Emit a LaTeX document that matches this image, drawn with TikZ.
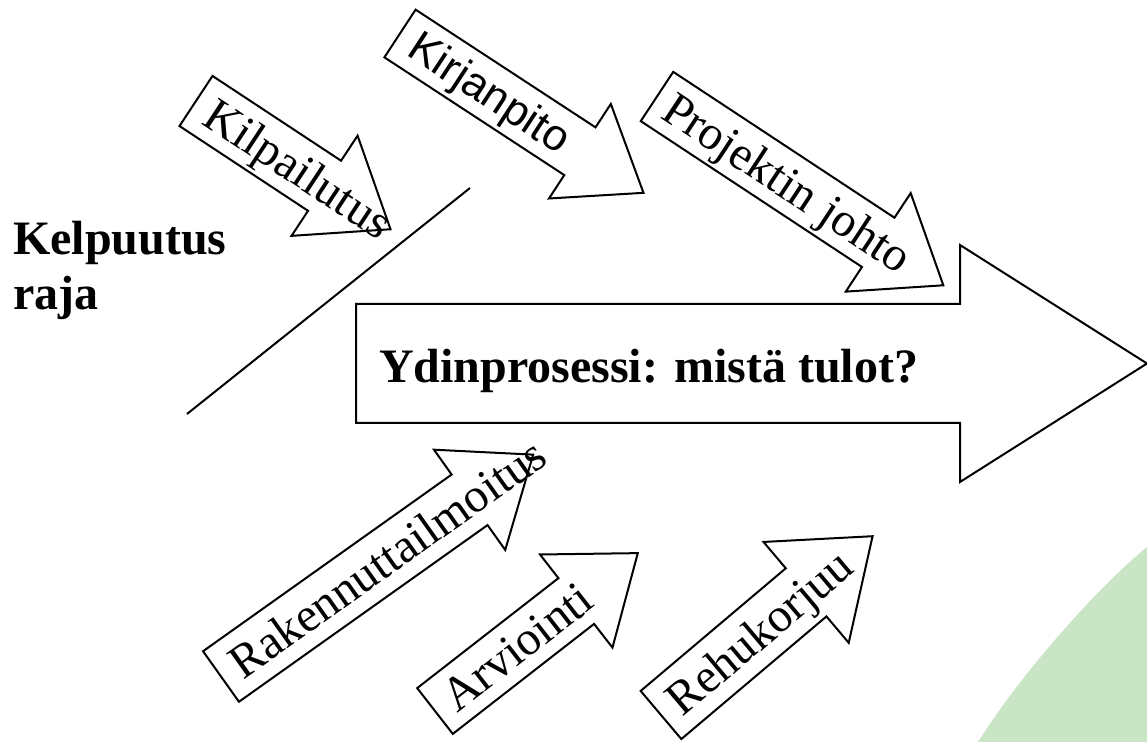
\documentclass[tikz,border=0pt]{standalone}
\usepackage{fontspec}
\setmainfont{Liberation Serif}
\newfontfamily\arialfont{Liberation Sans}
\usepackage{tikz}
\definecolor{leafgreen}{RGB}{202,228,198}

\begin{document}
\begin{tikzpicture}[x=0.5pt,y=-0.5pt,line width=1pt,
  block arrow/.style={draw=black,fill=white,line join=miter},
  arrow text/.style={anchor=base west,inner sep=0pt,font=\fontsize{24}{28}\selectfont},
  bold text/.style={anchor=base west,inner sep=0pt,font=\fontsize{24}{28}\selectfont\bfseries}]

  \useasboundingbox (0,0) rectangle (1147,742);

  % green corner
  \fill[leafgreen] (1147,547) .. controls (1095,590) and (1020,675) .. (978,742) -- (1147,742) -- cycle;

  % boundary line
  \coordinate (rajaTop) at (470,188);
  \coordinate (rajaBottom) at (187,414);
  \draw (rajaTop) -- (rajaBottom);

  \node[bold text] (kelpuutus) at (12,255) {Kelpuutus};
  \node[bold text] (raja) at (12,310) {raja};

  % core process
  \draw[block arrow] (356,304) -- (960,304) -- (960,245) -- (1147,363.5) -- (960,482) -- (960,423) -- (356,423) -- cycle;
  \node[bold text] (ydin) at (378,383) {Ydinprosessi: mistä tulot?};

  % arrows from above
  \begin{scope}[shift={(196,101)},rotate=-33.4]
    \draw[block arrow] (0,-30) -- (154,-30) -- (154,-60) -- (233,0) -- (154,60) -- (154,30) -- (0,30) -- cycle;
    \node[arrow text,rotate=-33.4] (kilpailutus) at (15,16) {Kilpailutus};
  \end{scope}
  \begin{scope}[shift={(400,33.5)},rotate=-33.2]
    \draw[block arrow] (0,-28.5) -- (215,-28.5) -- (215,-56.5) -- (291,0) -- (215,56.5) -- (215,28.5) -- (0,28.5) -- cycle;
    \node[arrow text,font=\arialfont\fontsize{22}{26}\selectfont,rotate=-33.2] (kirjanpito) at (15,15) {Kirjanpito};
  \end{scope}
  \begin{scope}[shift={(657,96.5)},rotate=-33.4]
    \draw[block arrow] (0,-29.5) -- (265,-29.5) -- (265,-59) -- (343,0) -- (265,59) -- (265,29.5) -- (0,29.5) -- cycle;
    \node[arrow text,rotate=-33.4] (johto) at (12,16) {Projektin johto};
  \end{scope}

  % arrows from below
  \begin{scope}[shift={(221,676.5)},rotate=35.4]
    \draw[block arrow] (0,-31) -- (305,-31) -- (305,-61.5) -- (383,0) -- (305,61.5) -- (305,31) -- (0,31) -- cycle;
    \node[arrow text,rotate=35.4] (ilmoitus) at (15,16) {Rakennuttailmoitus};
  \end{scope}
  \begin{scope}[shift={(435,711)},rotate=37.9]
    \draw[block arrow] (0,-29) -- (179,-29) -- (179,-59) -- (257,0) -- (179,59) -- (179,29) -- (0,29) -- cycle;
    \node[arrow text,rotate=37.9] (arviointi) at (15,16) {Arviointi};
  \end{scope}
  \begin{scope}[shift={(661,715)},rotate=40.2]
    \draw[block arrow] (0,-31.5) -- (190,-31.5) -- (190,-66) -- (277,0) -- (190,66) -- (190,31.5) -- (0,31.5) -- cycle;
    \node[arrow text,rotate=40.2] (rehukorjuu) at (14,16) {Rehukorjuu};
  \end{scope}
\end{tikzpicture}
\end{document}
